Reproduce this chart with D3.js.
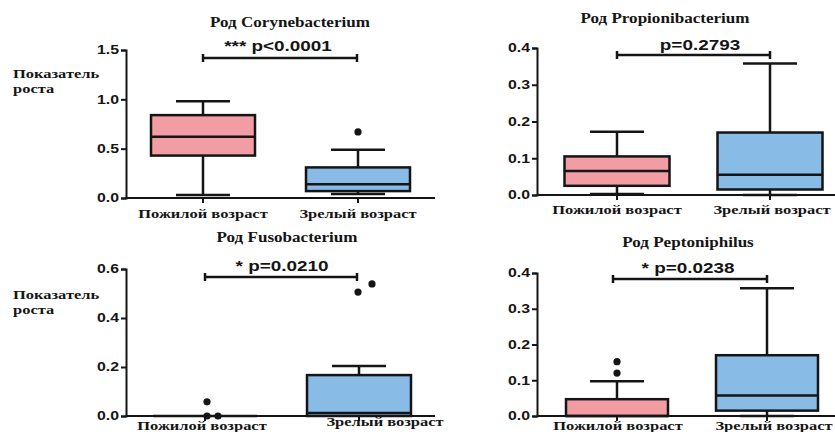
<!DOCTYPE html>
<html><head><meta charset="utf-8">
<script src="https://cdn.jsdelivr.net/npm/d3@7"></script>
<style>body{margin:0;background:#fff}svg{display:block}</style>
</head><body>
<script>
// ---- data ----
const panelTitles = ["Род Corynebacterium", "Род Propionibacterium", "Род Fusobacterium", "Род Peptoniphilus"];
const categories = ["Пожилой возраст", "Зрелый возраст"];
const pLabels = ["*** p<0.0001", "p=0.2793", "* p=0.0210", "* p=0.0238"];
const yTicks = [[0, 0.5, 1.0, 1.5], [0, 0.1, 0.2, 0.3, 0.4], [0, 0.2, 0.4, 0.6], [0, 0.1, 0.2, 0.3, 0.4]];
const yTickLabels = [["0.0", "0.5", "1.0", "1.5"], ["0.0", "0.1", "0.2", "0.3", "0.4"], ["0.0", "0.2", "0.4", "0.6"], ["0.0", "0.1", "0.2", "0.3", "0.4"]];
// [min, q1, median, q3, max]
const elderlyStats = [[0.03, 0.43, 0.62, 0.84, 0.98], [0.003, 0.025, 0.065, 0.105, 0.172], [0, 0, 0, 0, 0], [0, 0, 0, 0.047, 0.097]];
const matureStats = [[0.04, 0.07, 0.14, 0.31, 0.49], [0, 0.015, 0.055, 0.17, 0.358], [0, 0, 0.012, 0.167, 0.204], [0, 0.015, 0.057, 0.17, 0.357]];
const elderlyOutliers = [[], [], [0.058, 0, 0], [0.12, 0.152]];
const matureOutliers = [[0.67], [], [0.506, 0.539], []];
const yLabel = ["Показатель", "роста"];

// ---- layout ----
const layout = [
  {left: 126, right: 435, y0: 198, yTop: 50, cx: [203, 358], boxW: 104, title: [290, 22], p: [278, 46], brY: 58, brX: [203, 357], yl: [13, 74], cat: [[203, 214], [358, 214]], outOff: [[], [0]]},
  {left: 537, right: 835, y0: 195, yTop: 48, cx: [617, 770], boxW: 105, title: [665, 18], p: [700, 45], brY: 55, brX: [617, 770], yl: null, cat: [[617, 210], [772, 210]], outOff: [[], []]},
  {left: 126, right: 435, y0: 416, yTop: 269, cx: [205, 359], boxW: 104, title: [287, 237], p: [282, 266], brY: 277, brX: [205, 357], yl: [13, 295], cat: [[202, 426], [385, 422]], outOff: [[2, 2, 13], [-1, 13]]},
  {left: 537, right: 835, y0: 416, yTop: 273, cx: [617, 767], boxW: 102, title: [688, 242], p: [688, 268], brY: 279, brX: [613, 767], yl: null, cat: [[618, 426], [774, 426]], outOff: [[0, 0], []]}
];
const fill = ["#f29ca4", "#88bbe6"];
const ink = "#151515";
const SX = 1.22;

const svg = d3.select("body").append("svg").attr("width", 835).attr("height", 432);

function txt(g, x, y, s, size, family, anchor, sx) {
  return g.append("text")
    .attr("transform", `translate(${x},${y}) scale(${sx},1)`)
    .attr("text-anchor", anchor)
    .attr("dominant-baseline", "central")
    .style("font-family", family).style("font-weight", "bold").style("font-size", size + "px")
    .attr("fill", ink).text(s);
}
const SERIF = "'Liberation Serif','DejaVu Serif',serif";
const SANS = "'Liberation Sans',Arial,sans-serif";

layout.forEach((L, i) => {
  const g = svg.append("g");
  const ymax = yTicks[i][yTicks[i].length - 1];
  const y = d3.scaleLinear().domain([0, ymax]).range([L.y0, L.yTop]);
  const x = d3.scalePoint().domain(categories).range(L.cx);

  // y axis
  const ya = g.append("g").attr("transform", `translate(${L.left},0)`)
    .call(d3.axisLeft(y).tickValues(yTicks[i]).tickSize(5).tickFormat((d, k) => ""));
  ya.select(".domain").attr("stroke", ink).attr("stroke-width", 2);
  ya.selectAll(".tick line").attr("stroke", ink).attr("stroke-width", 2);
  yTicks[i].forEach((v, k) => txt(g, L.left - 7, y(v), yTickLabels[i][k], 13, SANS, "end", SX));

  // x axis baseline
  g.append("line").attr("x1", L.left).attr("x2", L.right).attr("y1", y(0)).attr("y2", y(0))
    .attr("stroke", ink).attr("stroke-width", 2);
  categories.forEach(c => g.append("line").attr("x1", x(c)).attr("x2", x(c)).attr("y1", y(0)).attr("y2", y(0) + 5)
    .attr("stroke", ink).attr("stroke-width", 2));

  // boxes
  const statsArr = [elderlyStats[i], matureStats[i]];
  const outArr = [elderlyOutliers[i], matureOutliers[i]];
  categories.forEach((c, j) => {
    const [mn, q1, md, q3, mx] = statsArr[j];
    const cx = x(c), bw = L.boxW, cw = 54;
    g.append("line").attr("x1", cx).attr("x2", cx).attr("y1", y(q3)).attr("y2", y(mx)).attr("stroke", ink).attr("stroke-width", 2.5);
    g.append("line").attr("x1", cx).attr("x2", cx).attr("y1", y(q1)).attr("y2", y(mn)).attr("stroke", ink).attr("stroke-width", 2.5);
    if (mx > q3) g.append("line").attr("x1", cx - cw / 2).attr("x2", cx + cw / 2).attr("y1", y(mx)).attr("y2", y(mx)).attr("stroke", ink).attr("stroke-width", 2.5);
    if (mn < q1) g.append("line").attr("x1", cx - cw / 2).attr("x2", cx + cw / 2).attr("y1", y(mn)).attr("y2", y(mn)).attr("stroke", ink).attr("stroke-width", 2.5);
    g.append("rect").attr("x", cx - bw / 2).attr("width", bw).attr("y", y(q3)).attr("height", Math.max(0, y(q1) - y(q3)))
      .attr("fill", fill[j]).attr("stroke", ink).attr("stroke-width", 2.5);
    g.append("line").attr("x1", cx - bw / 2).attr("x2", cx + bw / 2).attr("y1", y(md)).attr("y2", y(md)).attr("stroke", ink).attr("stroke-width", 2.5);
    outArr[j].forEach((v, k) => g.append("circle").attr("cx", cx + (L.outOff[j][k] || 0)).attr("cy", y(v)).attr("r", 3.6).attr("fill", ink));
    txt(g, L.cat[j][0], L.cat[j][1], c, 13.5, SERIF, "middle", SX);
  });

  // significance bracket
  g.append("line").attr("x1", L.brX[0]).attr("x2", L.brX[1]).attr("y1", L.brY).attr("y2", L.brY).attr("stroke", ink).attr("stroke-width", 2.5);
  L.brX.forEach(bx => g.append("line").attr("x1", bx).attr("x2", bx).attr("y1", L.brY - 4).attr("y2", L.brY + 4).attr("stroke", ink).attr("stroke-width", 2.5));
  txt(g, L.p[0], L.p[1], pLabels[i], 15.5, SANS, "middle", SX);

  // title
  txt(g, L.title[0], L.title[1], panelTitles[i], 14, SERIF, "middle", SX);

  // y label
  if (L.yl) {
    txt(g, L.yl[0], L.yl[1], yLabel[0], 13.5, SERIF, "start", SX);
    txt(g, L.yl[0], L.yl[1] + 15, yLabel[1], 13.5, SERIF, "start", SX);
  }
});
</script>
</body></html>
